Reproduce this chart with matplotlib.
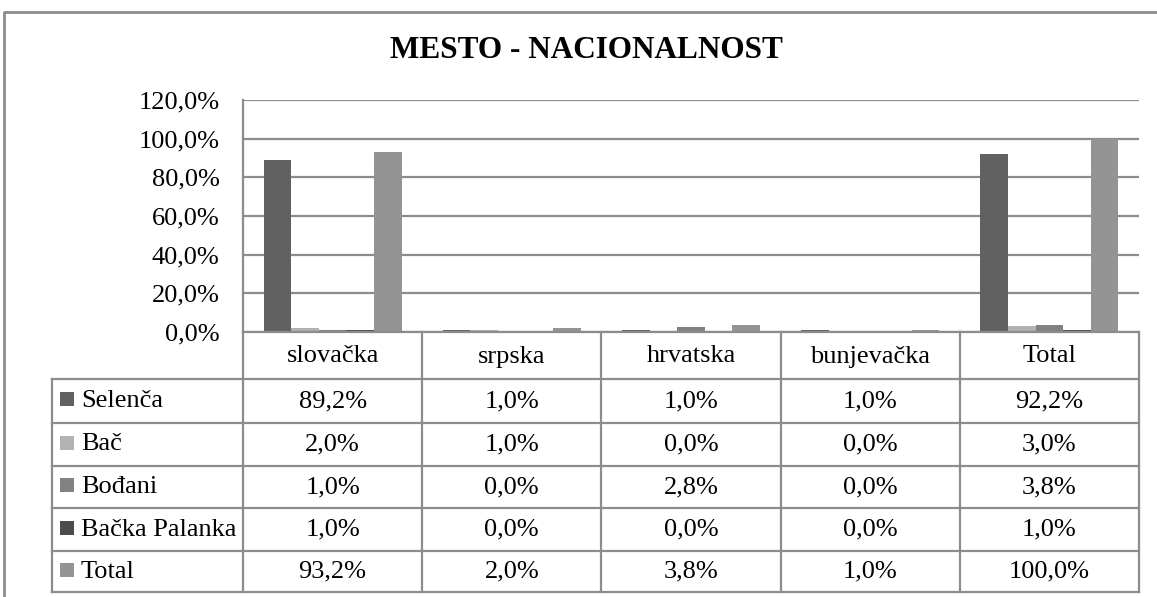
import numpy as np
import matplotlib
matplotlib.use('Agg')
import matplotlib.pyplot as plt

plt.rcParams['font.family'] = ['Liberation Serif', 'DejaVu Serif']

# podaci
kategorije = ['slovačka', 'srpska', 'hrvatska', 'bunjevačka', 'Total']
serije = ['Selenča', 'Bač', 'Bođani', 'Bačka Palanka', 'Total']
selenca = [89.2, 1.0, 1.0, 1.0, 92.2]
bac = [2.0, 1.0, 0.0, 0.0, 3.0]
bodjani = [1.0, 0.0, 2.8, 0.0, 3.8]
backa_palanka = [1.0, 0.0, 0.0, 0.0, 1.0]
total = [93.2, 2.0, 3.8, 1.0, 100.0]
y_ticks = [0, 20, 40, 60, 80, 100, 120]

vrednosti = [selenca, bac, bodjani, backa_palanka, total]
boje = ['#616161', '#b2b2b2', '#818181', '#4b4b4b', '#949494']
siva = '#8c8c8c'

W, H = 1157, 597
fig = plt.figure(figsize=(W / 100, H / 100), dpi=100)

def fx(px):
    return px / W

def fy(py):
    return 1 - py / H

# granice (u pikselima)
x_lev, x_des = 243, 1139
y_vrh, y_nula = 100, 332
redovi_y = [332, 379, 423, 466, 508, 551, 592]
tabela_lev = 52

# 1. grafikon
ax = fig.add_axes([fx(x_lev), fy(y_nula), fx(x_des - x_lev), (y_nula - y_vrh) / H])
n = len(kategorije)
w = 1 / 6.5
x = np.arange(n) + 0.5
for i, (ime, vals) in enumerate(zip(serije, vrednosti)):
    ax.bar(x + (i - 2) * w, vals, width=w, color=boje[i], zorder=3, linewidth=0)

ax.set_xlim(0, n)
ax.set_ylim(0, 120)
ax.set_yticks(y_ticks)
ax.set_yticklabels([('%.1f%%' % t).replace('.', ',') for t in y_ticks], fontsize=19)
ax.set_xticks([])
ax.tick_params(axis='y', length=0, pad=17)
ax.yaxis.grid(True, color=siva, linewidth=1.6, zorder=0)
for s in ['top', 'right', 'bottom']:
    ax.spines[s].set_visible(False)
ax.spines['left'].set_color(siva)
ax.spines['left'].set_linewidth(1.6)
ax.set_facecolor('none')

# 2. tabela
tx = fig.add_axes([0, 0, 1, 1])
tx.set_xlim(0, W)
tx.set_ylim(H, 0)
tx.axis('off')

kolone_x = np.linspace(x_lev, x_des, n + 1)
lw = 1.6
# horizontalne linije
tx.plot([x_lev, x_des], [redovi_y[0], redovi_y[0]], color=siva, lw=lw)
for yy in redovi_y[1:]:
    tx.plot([tabela_lev, x_des], [yy, yy], color=siva, lw=lw)
# vertikalne linije
tx.plot([tabela_lev, tabela_lev], [redovi_y[1], redovi_y[-1]], color=siva, lw=lw)
for xx in kolone_x:
    tx.plot([xx, xx], [redovi_y[0], redovi_y[-1]], color=siva, lw=lw)

# zaglavlje
for j, kat in enumerate(kategorije):
    tx.text((kolone_x[j] + kolone_x[j + 1]) / 2, (redovi_y[0] + redovi_y[1]) / 2 + 1, kat,
            ha='center', va='center', fontsize=19)

# redovi
for i, (ime, vals) in enumerate(zip(serije, vrednosti)):
    yc = (redovi_y[i + 1] + redovi_y[i + 2]) / 2
    tx.add_patch(plt.Rectangle((60, yc - 9), 14, 14, color=boje[i], lw=0))
    tx.text(81, yc, ime, ha='left', va='center', fontsize=19)
    for j, v in enumerate(vals):
        tx.text((kolone_x[j] + kolone_x[j + 1]) / 2, yc, ('%.1f%%' % v).replace('.', ','),
                ha='center', va='center', fontsize=19)

# okvir i naslov
tx.plot([4, 4, W], [H, 12, 12], color=siva, lw=2)
tx.text(586, 51, 'MESTO - NACIONALNOST', ha='center', va='center',
        fontsize=22.5, fontweight='bold')

fig.savefig('out.png', dpi=100, facecolor='white')
